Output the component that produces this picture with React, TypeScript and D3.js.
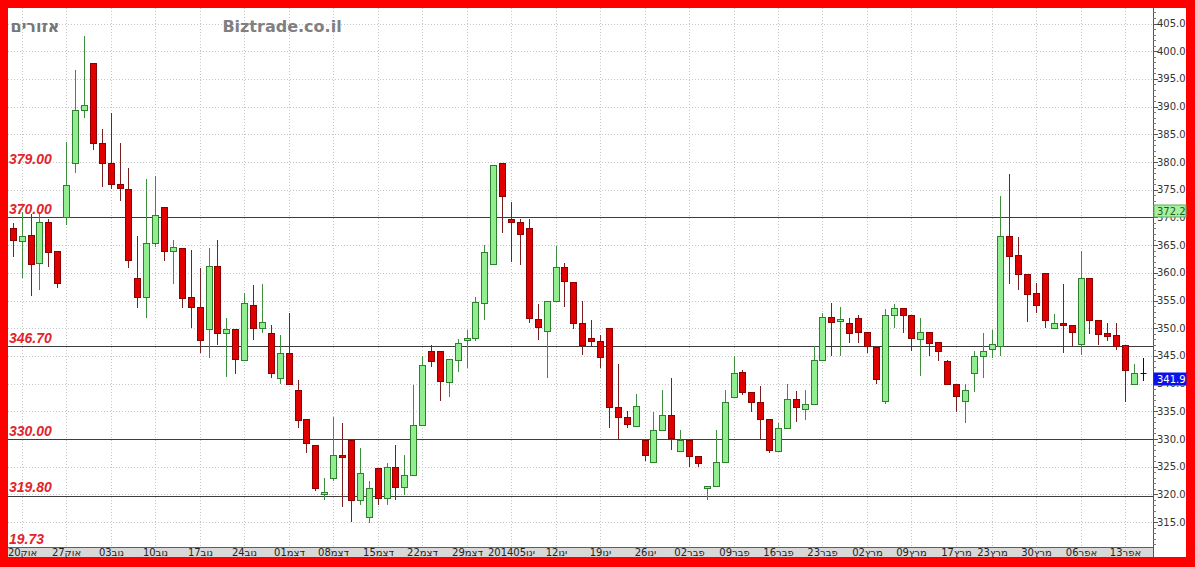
import React from "react";
import * as d3 from "d3";

const opens = [368.0,365.8,366.9,361.7,369.2,363.9,370.1,379.9,389.4,397.9,383.5,379.8,376.0,375.2,359.0,355.7,365.3,371.9,364.0,364.5,355.7,353.9,349.9,361.2,349.1,349.9,344.3,354.1,350.0,349.1,341.0,345.5,338.8,333.6,329.0,320.1,322.9,327.2,329.8,319.0,316.0,324.7,319.3,325.0,321.4,323.5,332.5,345.8,345.9,340.3,344.3,347.9,348.3,354.6,361.5,379.9,369.8,369.2,368.0,351.7,349.5,355.0,361.0,358.4,351.0,348.2,347.7,350.0,335.8,334.0,332.4,329.9,325.8,331.6,334.3,327.8,329.8,326.9,321.1,321.5,325.8,337.6,342.1,338.5,336.6,333.7,327.8,332.0,337.3,335.5,336.4,344.3,352.0,351.3,350.9,351.8,349.4,346.6,336.9,352.4,353.6,352.4,348.1,349.3,347.5,344.0,339.9,336.9,342.0,344.9,346.3,346.8,366.6,363.2,359.7,356.4,359.9,350.0,350.9,350.6,347.1,359.0,351.5,349.1,348.8,347.0,340.0,341.9];
const highs = [369.0,371.0,370.7,371.0,369.8,363.9,383.7,396.6,402.7,397.9,386.0,388.8,383.5,378.9,366.6,376.9,377.5,371.9,365.9,364.5,364.2,360.8,364.5,365.9,351.9,349.9,356.3,357.8,358.0,350.6,348.8,352.7,340.6,333.6,329.0,322.9,334.0,332.8,329.8,328.4,322.4,324.7,325.6,328.9,327.1,339.7,344.9,347.0,345.9,344.4,348.0,349.7,355.7,365.0,379.5,379.9,372.8,369.8,369.8,354.4,355.0,364.8,361.7,358.4,354.9,351.5,348.8,350.0,343.5,335.1,338.1,329.9,334.8,338.8,341.0,331.6,329.8,326.9,321.6,331.7,338.8,344.9,342.5,338.5,339.6,333.7,332.8,339.9,338.7,338.8,346.8,352.7,354.6,353.9,351.8,352.4,349.4,346.6,353.4,354.4,353.6,352.4,351.8,349.3,347.5,344.2,339.9,339.9,345.9,349.2,349.6,373.8,377.8,366.5,359.7,358.2,359.9,352.5,357.9,350.6,364.0,359.0,351.5,351.0,351.0,347.0,343.5,344.6];
const lows = [362.9,359.0,355.9,356.9,361.0,357.2,368.6,378.0,388.0,382.2,375.4,375.1,373.0,360.8,353.6,351.8,364.7,362.2,358.0,353.6,350.0,345.5,344.6,347.0,341.2,341.7,344.3,347.9,349.1,341.0,339.9,339.9,331.9,327.4,320.7,319.0,322.5,317.8,315.1,318.1,314.8,318.1,318.1,319.0,319.9,323.5,332.5,343.0,336.9,337.5,342.1,342.9,347.6,351.5,361.5,367.1,362.0,361.4,350.9,347.9,341.0,355.0,353.9,349.9,345.2,346.8,342.9,331.9,329.9,331.9,332.4,326.1,325.8,331.6,328.0,327.8,325.0,324.9,319.0,321.5,325.8,337.6,337.9,334.9,329.9,327.4,327.8,332.0,333.0,333.4,336.4,344.3,345.0,345.0,347.4,347.4,345.5,339.9,336.3,350.0,349.1,345.9,341.4,345.0,344.0,339.9,334.8,332.9,338.5,341.0,344.6,345.0,358.0,356.9,351.2,352.8,350.0,350.0,345.5,346.7,345.2,348.9,347.0,347.7,346.1,336.7,340.0,340.5];
const closes = [365.9,366.6,361.6,369.2,363.8,358.1,375.8,389.3,390.2,383.5,379.8,376.0,375.3,362.3,355.7,365.4,370.4,364.0,364.6,355.4,353.9,347.9,361.2,349.1,349.9,344.4,354.6,350.0,351.1,341.9,345.5,339.9,333.4,329.2,321.1,320.5,327.1,326.8,319.0,323.9,321.1,319.3,325.0,321.4,323.5,332.5,343.4,344.1,340.5,344.4,347.3,348.2,354.8,363.8,379.5,373.9,369.2,367.0,351.8,350.3,355.0,361.0,358.5,350.9,347.0,347.6,344.8,335.8,333.9,332.7,336.0,327.1,331.6,334.3,330.2,329.8,326.9,325.6,321.6,325.9,336.6,342.0,338.4,336.6,333.7,328.1,332.0,337.3,335.7,336.3,344.3,352.0,351.2,351.7,349.1,349.4,346.7,340.8,352.4,353.6,352.3,348.2,349.3,347.3,345.8,339.9,337.8,338.8,344.9,345.9,347.1,366.6,363.1,359.7,356.2,354.1,351.4,350.9,350.5,349.4,359.0,351.4,349.0,348.6,346.8,342.5,341.9,341.9];

const tickIndex = [1,6,11,16,21,26,31,36,41,46,51,56,61,66,71,76,81,86,91,96,101,106,110,115,120,125];
const tickLabels = ["20אוק","27אוק","03נוב","10נוב","17נוב","24נוב","01דצמ","08דצמ","15דצמ","22דצמ","29דצמ","201405ינו","12ינו","19ינו","26ינו","02פבר","09פבר","16פבר","23פבר","02מרץ","09מרץ","17מרץ","23מרץ","30מרץ","06אפר","13אפר"];

const levelLines = [370, 346.7, 330, 319.8];
const levelLabelValues = [379, 370, 346.7, 330, 319.8];
const levelLabelTexts = ["379.00", "370.00", "346.70", "330.00", "319.80"];
const bottomLabelText = "19.73";

const yTickValues = d3.range(315, 406, 5);
const priceTags = [{ v: 372.2, kind: "up" }, { v: 341.9, kind: "last" }];

const W = 1195, H = 567;
const L = 8, R = 1153, T = 8, B = 547;

export default function App() {
  const x = d3.scaleLinear().domain([0, 127]).range([12.8, 1142.8]);
  const y = d3.scaleLinear().domain([315, 405]).range([522.1, 23.5]);
  const px = (i: number) => Math.round(x(i)) + 0.5;
  const minor = d3.range(311, 409, 1).filter(v => y(v) > T && y(v) < B);

  return (
    <div style={{ position: "absolute", left: 0, top: 0 }}>
      <svg width={W} height={H} style={{ display: "block" }}>
        <rect x={0} y={0} width={W} height={H} fill="#ff0000" />
        <rect x={L} y={T} width={1186 - L} height={557 - T} fill="#ffffff" />
        {/* horizontal grid */}
        {yTickValues.map(v => (
          <line key={"hg" + v} x1={L} x2={R} y1={Math.round(y(v)) + 0.5} y2={Math.round(y(v)) + 0.5}
            stroke="#c4c4c4" strokeDasharray="1,2" />
        ))}
        {/* vertical grid */}
        {tickIndex.map(i => (
          <line key={"vg" + i} x1={px(i)} x2={px(i)} y1={T} y2={B} stroke="#c4c4c4" strokeDasharray="1,2" />
        ))}
        {/* level lines */}
        {levelLines.map(v => (
          <line key={"lv" + v} x1={L} x2={R} y1={Math.round(y(v)) + 0.5} y2={Math.round(y(v)) + 0.5}
            stroke="#3c3c3c" strokeWidth={1} />
        ))}
        {/* candles */}
        {opens.map((o, i) => {
          const c = closes[i], h = highs[i], l = lows[i];
          const cx = px(i);
          const up = c > o, flat = c === o;
          const wick = flat ? "#111" : up ? "#3f8f3f" : "#7a1f1f";
          const top = Math.round(y(Math.max(o, c))) + 0.5;
          const bot = Math.round(y(Math.min(o, c))) + 0.5;
          return (
            <g key={"c" + i}>
              <line x1={cx} x2={cx} y1={Math.round(y(h))} y2={Math.round(y(l))} stroke={wick} />
              {flat ? (
                <line x1={cx - 3} x2={cx + 3} y1={top} y2={top} stroke="#111" />
              ) : (
                <rect x={cx - 3} y={top} width={6} height={Math.max(1, bot - top)}
                  fill={up ? "#90ee90" : "#e00000"} stroke={up ? "#2f7f2f" : "#8b0000"} />
              )}
            </g>
          );
        })}
        {/* left level labels */}
        {levelLabelValues.map((v, k) => (
          <text key={"ll" + v} x={9} y={y(v) - 3.5} fill="#e3242b" fontFamily="'Liberation Sans', Arial, sans-serif"
            fontSize={14} fontWeight="bold" fontStyle="italic">{levelLabelTexts[k]}</text>
        ))}
        <text x={9} y={B - 3} fill="#e3242b" fontFamily="'Liberation Sans', Arial, sans-serif"
          fontSize={14} fontWeight="bold" fontStyle="italic">{bottomLabelText}</text>
        {/* titles */}
        <text x={35} y={32} textAnchor="middle" fill="#777" fontFamily="'DejaVu Sans', sans-serif" fontSize={16} fontWeight="bold">אזורים</text>
        <text x={282} y={32} textAnchor="middle" fill="#808080" fontFamily="'DejaVu Sans', sans-serif" fontSize={16} fontWeight="bold">Biztrade.co.il</text>
        {/* x axis band */}
        <rect x={L} y={B} width={R - L} height={557 - B} fill="#d8d8d8" />
        <line x1={L} x2={R} y1={B + 0.5} y2={B + 0.5} stroke="#55606b" />
        {tickIndex.map((i, k) => (
          <text key={"xt" + i} x={px(i)} y={555.5} textAnchor="middle" fill="#222"
            fontFamily="'DejaVu Sans', sans-serif" fontSize={10}>{tickLabels[k]}</text>
        ))}
        {/* right axis */}
        <line x1={R + 0.5} x2={R + 0.5} y1={T} y2={557} stroke="#555" />
        {minor.map(v => (
          <line key={"mt" + v} x1={R} x2={R + 3} y1={Math.round(y(v)) + 0.5} y2={Math.round(y(v)) + 0.5} stroke="#777" />
        ))}
        {yTickValues.map(v => (
          <g key={"yt" + v}>
            <line x1={R} x2={R + 5} y1={Math.round(y(v)) + 0.5} y2={Math.round(y(v)) + 0.5} stroke="#555" />
            <text x={1157} y={y(v)} dy="0.35em" fill="#333" fontFamily="'DejaVu Sans', sans-serif" fontSize={10}>{v.toFixed(1)}</text>
          </g>
        ))}
        {priceTags.map(t => {
          const ty = Math.round(y(t.v));
          const last = t.kind === "last";
          return (
            <g key={"pt" + t.v}>
              <rect x={R + 1} y={ty} width={32} height={12} fill={last ? "#0a12e8" : "#a8f0a0"}
                stroke={last ? "#0a12e8" : "#5fae5f"} />
              <text x={R + 4} y={ty + 10} fill={last ? "#ffffff" : "#1b5e1b"} fontFamily="'DejaVu Sans', sans-serif" fontSize={10}>{t.v.toFixed(1)}</text>
            </g>
          );
        })}
      </svg>
    </div>
  );
}
